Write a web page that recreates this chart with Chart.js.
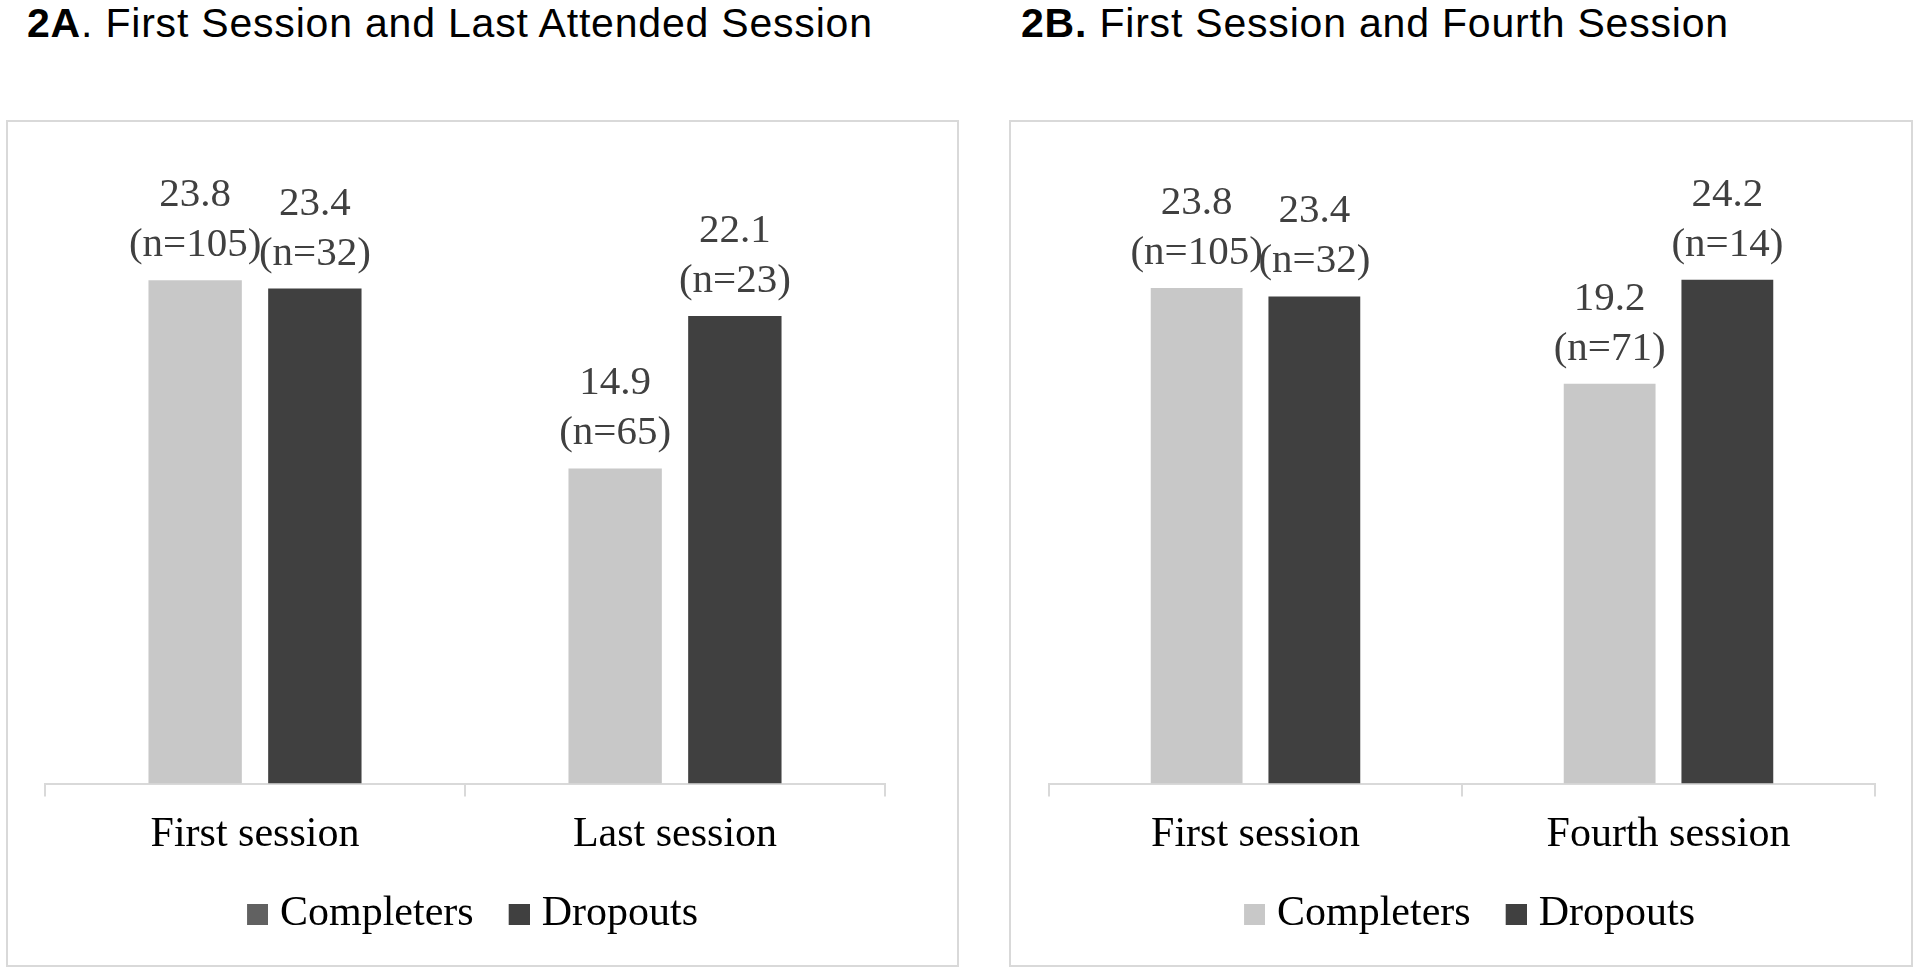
<!DOCTYPE html>
<html>
<head>
<meta charset="utf-8">
<script src="https://cdn.jsdelivr.net/npm/chart.js@4/dist/chart.umd.min.js"></script>
<style>
  body { margin: 0; background: #fff; }
  .page { position: relative; width: 1920px; height: 975px; }
  .title {
    position: absolute; top: 3px; margin: 0;
    font-family: "Liberation Sans", Arial, sans-serif;
    font-size: 41px; line-height: 41px; letter-spacing: 0.8px;
    color: #000; white-space: nowrap; font-weight: normal;
  }
  .title b { font-weight: bold; }
  .box {
    position: absolute; top: 120px; height: 847px;
    border: 2px solid #d9d9d9; box-sizing: border-box;
  }
</style>
</head>
<body>
<div class="page">
  <div class="title" style="left:27px"><b>2A</b>. First Session and Last Attended Session</div>
  <div class="title" style="left:1021px"><b>2B.</b> First Session and Fourth Session</div>
  <div class="box" style="left:6px;width:953px"><canvas id="chartA"></canvas></div>
  <div class="box" style="left:1009px;width:904px"><canvas id="chartB"></canvas></div>
</div>
<script>
// --- data ---
const seriesNames = ["Completers", "Dropouts"];

const categoriesA = ["First session", "Last session"];
const completersA = [23.8, 14.9];
const dropoutsA = [23.4, 22.1];
const completersCountA = [105, 65];
const dropoutsCountA = [32, 23];

const categoriesB = ["First session", "Fourth session"];
const completersB = [23.8, 19.2];
const dropoutsB = [23.4, 24.2];
const completersCountB = [105, 71];
const dropoutsCountB = [32, 14];

const completerColor = "#c8c8c8";
const dropoutColor = "#404040";
const axisColor = "#d9d9d9";
const serif = "'Liberation Serif', 'Times New Roman', serif";

// legend marker: small square sitting close to the text (Excel style)
function legendSquare(color) {
  const c = document.createElement("canvas");
  c.width = 45;
  c.height = 21;
  const g = c.getContext("2d");
  g.fillStyle = color;
  g.fillRect(24, 0, 21, 21);
  return c;
}

// value + (n=..) above each bar
const barLabels = {
  id: "barLabels",
  afterDatasetsDraw(chart, args, opts) {
    const ctx = chart.ctx;
    ctx.save();
    ctx.font = "41px " + serif;
    ctx.fillStyle = "#404040";
    ctx.textAlign = "center";
    ctx.textBaseline = "alphabetic";
    chart.data.datasets.forEach((ds, i) => {
      chart.getDatasetMeta(i).data.forEach((bar, j) => {
        ctx.fillText(ds.data[j].toFixed(1), bar.x, bar.y - 74);
        ctx.fillText("(n=" + opts.counts[i][j] + ")", bar.x, bar.y - 24);
      });
    });
    ctx.restore();
  },
};

function makeChart(id, categories, completers, dropouts, counts, legendColors, padding, yMax) {
  new Chart(document.getElementById(id), {
    type: "bar",
    data: {
      labels: categories,
      datasets: [
        { label: seriesNames[0], data: completers, backgroundColor: completerColor },
        { label: seriesNames[1], data: dropouts, backgroundColor: dropoutColor },
      ],
    },
    options: {
      responsive: true,
      maintainAspectRatio: false,
      animation: false,
      categoryPercentage: 0.57,
      barPercentage: 0.78,
      layout: { padding: padding },
      scales: {
        x: {
          grid: {
            drawOnChartArea: false,
            tickLength: 13,
            color: axisColor,
            lineWidth: 2,
          },
          border: { color: axisColor, width: 2 },
          ticks: { color: "#000", padding: 13, font: { family: serif, size: 42 } },
        },
        y: { display: false, min: 0, max: yMax },
      },
      plugins: {
        legend: {
          position: "bottom",
          labels: {
            color: "#000",
            usePointStyle: true,
            boxWidth: 27,
            boxHeight: 21,
            padding: 20,
            font: { family: serif, size: 42 },
            generateLabels: (chart) =>
              chart.data.datasets.map((ds, i) => ({
                text: ds.label,
                fillStyle: legendColors[i],
                strokeStyle: legendColors[i],
                lineWidth: 0,
                pointStyle: legendSquare(legendColors[i]),
                datasetIndex: i,
              })),
          },
        },
        tooltip: { enabled: false },
        barLabels: { counts: counts },
      },
    },
    plugins: [barLabels],
  });
}

makeChart("chartA", categoriesA, completersA, dropoutsA,
  [completersCountA, dropoutsCountA], ["#616161", dropoutColor],
  { top: 27, left: 37, right: 72, bottom: 20 }, 30);

makeChart("chartB", categoriesB, completersB, dropoutsB,
  [completersCountB, dropoutsCountB], [completerColor, dropoutColor],
  { top: 37, left: 38, right: 36, bottom: 20 }, 30);
</script>
</body>
</html>
